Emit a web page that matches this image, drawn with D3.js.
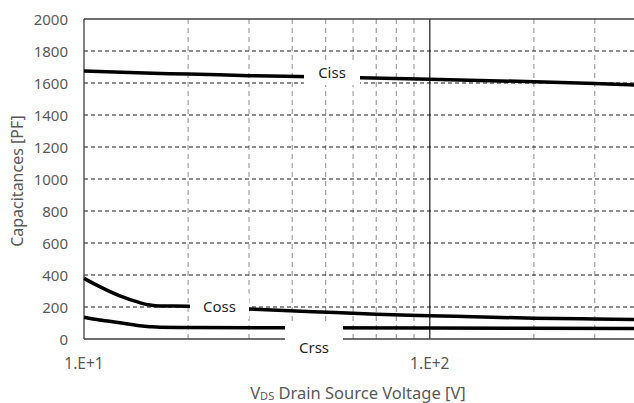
<!DOCTYPE html>
<html>
<head>
<meta charset="utf-8">
<script src="https://cdn.jsdelivr.net/npm/d3@7"></script>
<style>
  body { margin: 0; background: #fff; }
  text { font-family: "Noto Sans", "Open Sans", sans-serif; }
</style>
</head>
<body>
<div id="chart"></div>
<script>
// values
const cissV = [10, 15, 20, 30, 45, 63, 100, 200, 300, 400]
const cissC = [1675, 1662, 1656, 1646, 1639, 1633, 1624, 1608, 1597, 1587]

const cossV = [10, 11.1, 12.7, 14.5, 15.5, 16.6, 20, 30, 46, 70, 100, 200, 300, 400]
const cossC = [379, 327, 269, 227, 212, 206, 205, 187, 171, 155, 146, 130, 125, 122]

const crssV = [10, 11.1, 12.7, 14.5, 15.5, 16.6, 20, 40, 100, 400]
const crssC = [136, 119, 102, 83, 77, 73, 72, 70, 68, 66]

const yTicks = [0, 200, 400, 600, 800, 1000, 1200, 1400, 1600, 1800, 2000]
const xMinor = [20, 30, 40, 50, 60, 70, 80, 90, 200, 300]
const xMajor = [10, 100]
const xTickLabels = ["1.E+1", "1.E+2"]

const W = 634, H = 403
const svg = d3.select("#chart").append("svg")
    .attr("width", W)
    .attr("height", H)

const x = d3.scaleLog().domain([10, 400]).range([84, 638])
const y = d3.scaleLinear().domain([0, 2000]).range([339, 19])

// vertical minor grid
svg.append("g").selectAll("line")
    .data(xMinor)
    .join("line")
    .attr("x1", d => x(d)).attr("x2", d => x(d))
    .attr("y1", y(0)).attr("y2", y(2000))
    .attr("stroke", "#8c8c8c")
    .attr("stroke-width", 1)
    .attr("stroke-dasharray", "5,4")

// horizontal grid
svg.append("g").selectAll("line")
    .data(yTicks.slice(1, -1))
    .join("line")
    .attr("x1", x(10)).attr("x2", W)
    .attr("y1", d => y(d)).attr("y2", d => y(d))
    .attr("stroke", "#1a1a1a")
    .attr("stroke-width", 1)
    .attr("stroke-dasharray", "4,3")

// solid decade line and frame
svg.append("line")
    .attr("x1", x(100)).attr("x2", x(100))
    .attr("y1", y(0)).attr("y2", y(2000))
    .attr("stroke", "#1a1a1a").attr("stroke-width", 1.2)
svg.append("line")
    .attr("x1", x(10)).attr("x2", W)
    .attr("y1", y(2000)).attr("y2", y(2000))
    .attr("stroke", "#404040").attr("stroke-width", 1.3)
svg.append("line")
    .attr("x1", x(10)).attr("x2", W)
    .attr("y1", y(0)).attr("y2", y(0))
    .attr("stroke", "#404040").attr("stroke-width", 1.3)
svg.append("line")
    .attr("x1", x(10)).attr("x2", x(10))
    .attr("y1", y(0)).attr("y2", y(2000))
    .attr("stroke", "#404040").attr("stroke-width", 1.3)

// curves
const line = d3.line()
    .x(d => x(d[0]))
    .y(d => y(d[1]))
    .curve(d3.curveMonotoneX)

const series = [
    d3.zip(cissV, cissC),
    d3.zip(cossV, cossC),
    d3.zip(crssV, crssC)
]
svg.append("g").selectAll("path")
    .data(series)
    .join("path")
    .attr("d", line)
    .attr("fill", "none")
    .attr("stroke", "#000")
    .attr("stroke-width", 3.5)

// data labels with white boxes
const labels = [
    {text: "Ciss", x0: 304, x1: 360, y0: 60, y1: 85, ty: 72},
    {text: "Coss", x0: 190, x1: 249, y0: 293, y1: 319, ty: 306},
    {text: "Crss", x0: 285, x1: 343, y0: 322, y1: 362, ty: 347}
]
svg.append("g").selectAll("rect")
    .data(labels)
    .join("rect")
    .attr("x", d => d.x0).attr("y", d => d.y0)
    .attr("width", d => d.x1 - d.x0).attr("height", d => d.y1 - d.y0)
    .attr("fill", "#fff")
svg.append("g").selectAll("text")
    .data(labels)
    .join("text")
    .attr("x", d => (d.x0 + d.x1) / 2)
    .attr("y", d => d.ty)
    .attr("text-anchor", "middle")
    .attr("dominant-baseline", "central")
    .attr("font-size", 15)
    .attr("fill", "#1f1f1f")
    .text(d => d.text)

// y tick labels
svg.append("g").selectAll("text")
    .data(yTicks)
    .join("text")
    .attr("x", 68)
    .attr("y", d => y(d))
    .attr("text-anchor", "end")
    .attr("dominant-baseline", "central")
    .attr("font-size", 15)
    .attr("fill", "#595959")
    .text(d => d)

// x tick labels
svg.append("g").selectAll("text")
    .data(xMajor)
    .join("text")
    .attr("x", d => x(d))
    .attr("y", 363)
    .attr("text-anchor", "middle")
    .attr("dominant-baseline", "central")
    .attr("font-size", 15.5)
    .attr("fill", "#595959")
    .text((d, i) => xTickLabels[i])

// axis titles
svg.append("text")
    .attr("transform", "translate(17,181) rotate(-90)")
    .attr("text-anchor", "middle")
    .attr("dominant-baseline", "central")
    .attr("font-size", 16)
    .attr("fill", "#595959")
    .text("Capacitances [PF]")

const xt = svg.append("text")
    .attr("x", 358)
    .attr("y", 392)
    .attr("text-anchor", "middle")
    .attr("dominant-baseline", "central")
    .attr("font-size", 16.5)
    .attr("fill", "#595959")
xt.append("tspan").text("V")
xt.append("tspan").attr("font-size", 11).attr("dy", 3).text("DS")
xt.append("tspan").attr("dy", -3).text(" Drain Source Voltage [V]")
</script>
</body>
</html>
